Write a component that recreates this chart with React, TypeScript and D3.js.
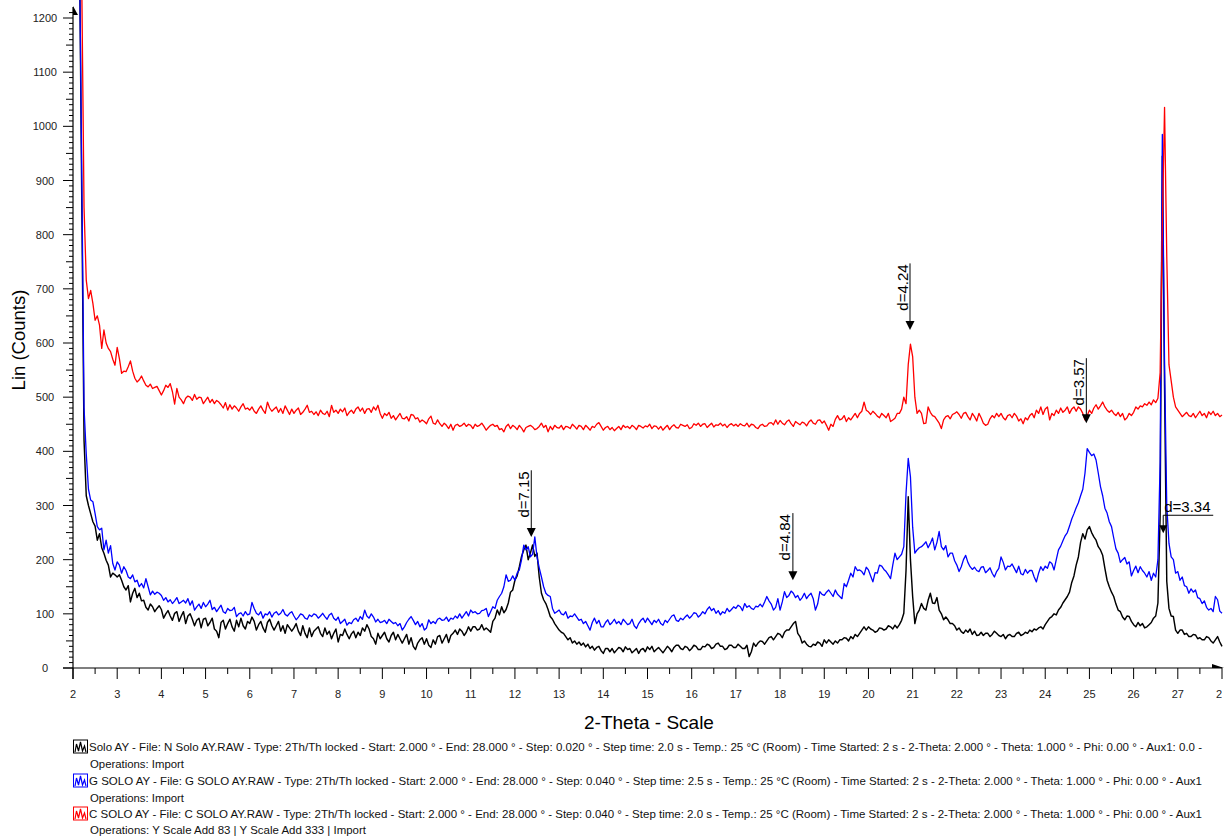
import React from "react";
import * as d3 from "d3";

// 2-Theta grid: start 2.00, step 0.05 (521 points each, one row per degree)
const START = 2.0;
const STEP = 0.05;

const blackCounts = [
  1400, 1400, 1400, 1300, 850, 420, 318, 300, 285, 270, 262, 236, 248, 222, 212, 199, 190, 168, 175, 172,
  168, 172, 162, 150, 144, 152, 122, 138, 147, 130, 138, 124, 125, 112, 107, 118, 113, 104, 110, 115,
  108, 92, 100, 106, 96, 88, 101, 104, 86, 96, 104, 82, 96, 100, 90, 78, 88, 92, 74, 90,
  92, 78, 84, 92, 72, 68, 56, 84, 88, 72, 82, 90, 76, 68, 88, 76, 92, 78, 72, 86,
  82, 94, 86, 70, 80, 86, 74, 66, 84, 90, 78, 70, 78, 86, 68, 78, 64, 80, 74, 68,
  74, 82, 68, 60, 78, 64, 56, 74, 58, 68, 72, 76, 64, 58, 74, 62, 68, 54, 64, 72,
  48, 62, 60, 72, 62, 54, 63, 68, 56, 66, 60, 74, 68, 80, 72, 58, 54, 44, 64, 54,
  60, 66, 54, 48, 60, 66, 52, 62, 54, 46, 54, 62, 44, 56, 40, 34, 46, 52, 56, 44,
  54, 42, 38, 52, 44, 58, 60, 46, 54, 62, 47, 60, 64, 70, 62, 72, 68, 60, 66, 76,
  68, 76, 76, 70, 72, 80, 70, 74, 70, 66, 86, 92, 107, 98, 113, 102, 108, 120, 140, 144,
  162, 170, 187, 206, 218, 227, 200, 212, 227, 206, 212, 168, 138, 126, 119, 108, 95, 90, 82, 76,
  70, 66, 64, 58, 52, 56, 46, 50, 44, 48, 42, 46, 39, 44, 36, 40, 33, 38, 40, 32,
  27, 36, 36, 30, 36, 28, 33, 38, 36, 30, 39, 34, 36, 28, 32, 36, 27, 34, 36, 30,
  39, 34, 40, 30, 34, 38, 33, 28, 34, 40, 36, 30, 38, 42, 42, 36, 34, 40, 38, 32,
  36, 42, 40, 34, 34, 40, 39, 44, 42, 36, 38, 44, 46, 40, 40, 34, 36, 42, 42, 38,
  38, 44, 40, 36, 36, 42, 21, 30, 46, 40, 46, 50, 49, 44, 50, 56, 58, 52, 58, 64,
  62, 56, 66, 70, 70, 76, 82, 86, 64, 58, 46, 50, 44, 40, 39, 44, 42, 48, 46, 40,
  52, 46, 52, 48, 44, 50, 46, 52, 52, 56, 55, 50, 58, 54, 62, 58, 64, 70, 76, 70,
  76, 72, 70, 66, 68, 74, 73, 70, 72, 78, 76, 72, 79, 74, 80, 88, 101, 180, 316, 200,
  132, 82, 100, 107, 119, 110, 107, 125, 138, 120, 119, 130, 107, 100, 89, 94, 89, 82, 82, 78,
  70, 74, 67, 64, 70, 66, 72, 62, 68, 60, 61, 66, 60, 64, 64, 58, 62, 68, 64, 60,
  58, 62, 54, 60, 62, 58, 58, 64, 66, 60, 62, 66, 64, 70, 67, 72, 70, 74, 76, 72,
  80, 86, 92, 95, 100, 98, 107, 112, 120, 126, 132, 140, 158, 170, 190, 205, 232, 248, 238, 255,
  261, 250, 242, 236, 224, 218, 208, 184, 162, 150, 140, 132, 118, 107, 104, 94, 89, 96, 95, 86,
  80, 76, 84, 78, 82, 74, 76, 80, 84, 92, 96, 120, 280, 945, 520, 160, 110, 96, 95, 70,
  64, 70, 70, 62, 64, 58, 58, 62, 61, 54, 56, 52, 52, 58, 56, 50, 46, 52, 58, 48,
  40,
];

const blueCounts = [
  1400, 1400, 1400, 1300, 900, 480, 395, 330, 310, 307, 285, 261, 255, 258, 218, 236, 212, 226, 193, 181,
  196, 190, 175, 187, 180, 168, 165, 172, 159, 162, 150, 156, 148, 165, 150, 135, 142, 136, 140, 138,
  134, 125, 130, 122, 126, 119, 124, 130, 119, 122, 125, 120, 128, 116, 124, 107, 113, 118, 110, 121,
  113, 118, 125, 108, 112, 104, 110, 116, 104, 101, 110, 106, 107, 112, 95, 100, 102, 96, 104, 98,
  100, 121, 110, 101, 98, 104, 92, 100, 98, 104, 94, 101, 104, 98, 101, 108, 99, 96, 101, 104,
  96, 89, 94, 100, 98, 92, 90, 98, 95, 100, 98, 92, 96, 101, 95, 90, 98, 101, 92, 88,
  94, 82, 86, 90, 79, 84, 82, 89, 92, 86, 95, 90, 107, 96, 92, 100, 94, 85, 90, 84,
  85, 88, 82, 90, 86, 82, 84, 78, 82, 70, 76, 84, 90, 95, 88, 80, 86, 76, 82, 70,
  74, 89, 82, 86, 82, 90, 92, 88, 89, 94, 86, 92, 90, 96, 92, 100, 92, 98, 104, 96,
  107, 102, 104, 100, 101, 106, 107, 110, 95, 104, 113, 110, 125, 132, 138, 150, 172, 160, 162, 170,
  162, 175, 181, 200, 227, 218, 224, 205, 210, 242, 205, 185, 168, 150, 138, 134, 132, 110, 101, 104,
  107, 100, 98, 104, 92, 96, 95, 100, 94, 88, 90, 82, 86, 78, 70, 84, 92, 82, 88, 76,
  76, 84, 89, 80, 84, 90, 82, 86, 80, 90, 85, 80, 82, 90, 78, 73, 82, 88, 92, 84,
  92, 86, 80, 88, 84, 90, 82, 79, 88, 84, 90, 96, 98, 88, 86, 92, 89, 94, 98, 92,
  96, 102, 101, 94, 98, 104, 100, 108, 113, 106, 110, 101, 106, 98, 104, 101, 110, 104, 108, 113,
  110, 116, 113, 106, 119, 112, 115, 110, 108, 114, 113, 118, 113, 122, 132, 124, 118, 107, 112, 128,
  107, 122, 141, 130, 134, 142, 138, 130, 134, 125, 130, 138, 128, 134, 138, 128, 107, 118, 141, 136,
  134, 140, 144, 138, 132, 144, 136, 132, 128, 156, 150, 162, 175, 168, 187, 180, 181, 178, 172, 186,
  181, 170, 159, 176, 175, 190, 188, 182, 178, 172, 165, 190, 212, 200, 205, 210, 224, 322, 387, 353,
  260, 212, 218, 222, 224, 228, 233, 222, 230, 240, 218, 232, 252, 224, 218, 226, 205, 212, 212, 198,
  190, 178, 187, 200, 208, 195, 187, 182, 186, 180, 178, 186, 187, 176, 180, 185, 175, 168, 178, 184,
  205, 195, 181, 188, 187, 192, 184, 176, 188, 174, 172, 182, 175, 180, 180, 168, 159, 175, 187, 180,
  188, 184, 196, 193, 181, 200, 218, 225, 235, 244, 250, 262, 275, 285, 296, 305, 318, 330, 360, 405,
  398, 392, 395, 384, 360, 335, 318, 295, 286, 270, 261, 240, 220, 212, 195, 200, 204, 192, 196, 170,
  180, 188, 176, 187, 180, 175, 168, 178, 162, 175, 168, 200, 380, 985, 560, 300, 230, 205, 200, 175,
  178, 162, 168, 152, 150, 138, 146, 140, 144, 130, 128, 119, 124, 112, 107, 110, 104, 132, 126, 105,
  101,
];

const redCounts = [
  1400, 1400, 1400, 1400, 1250, 850, 716, 682, 697, 673, 642, 650, 633, 590, 624, 600, 590, 584, 570, 559,
  592, 571, 544, 548, 547, 556, 567, 548, 535, 528, 532, 539, 530, 522, 519, 524, 516, 518, 520, 512,
  504, 512, 522, 518, 525, 510, 487, 516, 500, 495, 488, 498, 502, 500, 494, 505, 496, 500, 499, 488,
  494, 500, 490, 496, 488, 494, 491, 486, 480, 490, 476, 486, 478, 484, 480, 474, 482, 488, 478, 480,
  476, 482, 474, 470, 478, 484, 476, 470, 491, 480, 474, 478, 482, 472, 479, 470, 484, 476, 468, 478,
  470, 476, 480, 468, 472, 478, 485, 472, 474, 468, 473, 466, 476, 470, 468, 474, 464, 485, 472, 476,
  470, 478, 473, 480, 466, 472, 476, 470, 478, 482, 474, 480, 470, 478, 479, 472, 482, 476, 485, 470,
  461, 470, 466, 472, 461, 466, 458, 464, 470, 461, 460, 464, 456, 468, 467, 460, 462, 454, 458, 455,
  451, 460, 465, 452, 450, 458, 451, 446, 452, 448, 442, 450, 439, 448, 450, 446, 448, 452, 446, 450,
  448, 442, 450, 446, 448, 452, 446, 439, 444, 448, 450, 446, 448, 440, 442, 436, 446, 450, 442, 448,
  445, 440, 448, 443, 436, 444, 446, 448, 445, 440, 442, 446, 452, 444, 448, 436, 446, 440, 448, 444,
  443, 448, 440, 446, 445, 442, 450, 446, 441, 448, 446, 440, 448, 444, 439, 446, 444, 450, 453, 446,
  439, 444, 446, 440, 444, 438, 442, 446, 440, 448, 444, 446, 442, 448, 445, 440, 448, 446, 443, 447,
  445, 450, 442, 447, 446, 441, 446, 439, 444, 448, 440, 446, 449, 444, 443, 450, 448, 446, 449, 442,
  444, 451, 448, 452, 446, 450, 451, 444, 448, 452, 445, 449, 448, 452, 447, 450, 444, 449, 451, 447,
  450, 446, 451, 448, 447, 452, 445, 450, 449, 444, 442, 448, 450, 446, 447, 452, 453, 449, 458, 450,
  457, 452, 449, 455, 458, 451, 446, 455, 452, 449, 454, 452, 447, 454, 458, 452, 450, 457, 458, 452,
  456, 448, 439, 450, 446, 459, 466, 458, 460, 466, 455, 462, 458, 464, 470, 462, 470, 474, 491, 476,
  473, 468, 474, 470, 465, 462, 470, 466, 462, 470, 455, 458, 461, 470, 470, 478, 500, 488, 560, 598,
  575, 500, 470, 476, 470, 451, 452, 482, 472, 466, 464, 458, 452, 442, 458, 464, 466, 460, 468, 470,
  473, 468, 461, 470, 472, 464, 458, 470, 464, 456, 470, 462, 452, 448, 450, 460, 466, 462, 470, 464,
  470, 462, 458, 466, 468, 462, 470, 465, 456, 460, 451, 462, 458, 466, 470, 462, 476, 470, 482, 468,
  478, 482, 458, 470, 466, 476, 470, 480, 472, 476, 482, 470, 478, 482, 474, 482, 478, 470, 458, 466,
  476, 470, 480, 486, 478, 484, 491, 482, 476, 472, 476, 470, 466, 472, 464, 470, 458, 462, 470, 466,
  472, 482, 478, 484, 482, 488, 485, 491, 486, 495, 490, 498, 545, 820, 1035, 760, 560, 530, 500, 482,
  476, 470, 464, 468, 472, 466, 464, 470, 462, 468, 474, 466, 470, 462, 473, 468, 474, 466, 470, 464,
  467,
];

const seriesColors = ["#000000", "#0000ff", "#ff0000"];
const seriesWidths = [1.45, 1.3, 1.3];

const xTickLabels = d3.range(2, 29);
const yTickLabels = d3.range(0, 1201, 100);

const legendTitles = [
  "Solo AY - File: N Solo AY.RAW - Type: 2Th/Th locked - Start: 2.000 ° - End: 28.000 ° - Step: 0.020 ° - Step time: 2.0 s - Temp.: 25 °C (Room) - Time Started: 2 s - 2-Theta: 2.000 ° - Theta: 1.000 ° - Phi: 0.00 ° - Aux1: 0.0 -",
  "G SOLO AY - File: G SOLO AY.RAW - Type: 2Th/Th locked - Start: 2.000 ° - End: 28.000 ° - Step: 0.040 ° - Step time: 2.5 s - Temp.: 25 °C (Room) - Time Started: 2 s - 2-Theta: 2.000 ° - Theta: 1.000 ° - Phi: 0.00 ° - Aux1",
  "C SOLO AY - File: C SOLO AY.RAW - Type: 2Th/Th locked - Start: 2.000 ° - End: 28.000 ° - Step: 0.040 ° - Step time: 2.0 s - Temp.: 25 °C (Room) - Time Started: 2 s - 2-Theta: 2.000 ° - Theta: 1.000 ° - Phi: 0.00 ° - Aux1",
];
const legendOps = [
  "Operations: Import",
  "Operations: Import",
  "Operations: Y Scale Add 83 | Y Scale Add 333 | Import",
];
const legendOpsWidth = [94, 94, 276];

// d-spacing markers: 2-theta position, arrow tip value, line top value
const markerLabels = ["d=7.15", "d=4.84", "d=4.24", "d=3.57", "d=3.34"];
const markerTheta = [12.37, 18.29, 20.94, 24.93, 26.67];
const markerTip = [242, 162, 624, 452, 249];
const markerTop = [365, 286, 747, 572, 282];
const markerHorizontal = [false, false, false, false, true];

const FONT = "'Liberation Sans', Arial, Helvetica, sans-serif";

export default function App() {
  const W = 1229;
  const H = 836;
  const x = d3.scaleLinear().domain([2, 28]).range([73, 1222]);
  const y = d3.scaleLinear().domain([0, 1200]).range([668, 18]);
  const line = d3
    .line<number>()
    .x((_, i) => x(START + i * STEP))
    .y((d) => y(d));

  const series = [blackCounts, blueCounts, redCounts];
  const yMinor = d3.range(0, 1211, 10);
  const xMinor = d3.range(2, 28.01, 0.5);
  const x0 = x(2);
  const yBase = y(0);

  return (
    <svg
      width={W}
      height={H}
      style={{ position: "absolute", left: 0, top: 0, background: "#fff" }}
      fontFamily={FONT}
    >
      <defs>
        <clipPath id="pageClip">
          <rect x={0} y={0} width={1225} height={H} />
        </clipPath>
        <clipPath id="labelClip">
          <rect x={0} y={0} width={1222} height={H} />
        </clipPath>
      </defs>
      <rect x={0} y={0} width={W} height={H} fill="#fff" />
      <g clipPath="url(#pageClip)">
        {/* data */}
        {series.map((s, k) => (
          <path
            key={k}
            d={line(s) || ""}
            fill="none"
            stroke={seriesColors[k]}
            strokeWidth={seriesWidths[k]}
            strokeLinejoin="round"
          />
        ))}

        {/* y axis */}
        <line x1={x0} x2={x0} y1={yBase + 11} y2={7} stroke="#000" strokeWidth={1.2} />
        <path d={`M${x0},6 L${x0 + 5},15 L${x0},15 Z`} fill="#000" />
        {yMinor.map((v) => {
          const len = v % 100 === 0 ? 10 : v % 50 === 0 ? 7 : 4;
          return (
            <line
              key={"ym" + v}
              x1={x0 - len}
              x2={x0}
              y1={y(v)}
              y2={y(v)}
              stroke="#000"
              strokeWidth={1}
            />
          );
        })}
        {yTickLabels.map((v) => (
          <text
            key={"yl" + v}
            x={45}
            y={y(v) + 4}
            textAnchor="middle"
            fontSize={11}
            fill="#222"
          >
            {v}
          </text>
        ))}

        {/* x axis */}
        <line x1={x0 - 10} x2={1222} y1={yBase} y2={yBase} stroke="#000" strokeWidth={1.2} />
        <path d={`M1212,${yBase - 4} L1224,${yBase} L1212,${yBase} Z`} fill="#000" />
        {xMinor.map((v) => {
          const major = Math.abs(v - Math.round(v)) < 1e-6;
          return (
            <line
              key={"xm" + v}
              x1={x(v)}
              x2={x(v)}
              y1={yBase}
              y2={yBase + (major ? 11 : 6)}
              stroke="#000"
              strokeWidth={1}
            />
          );
        })}
        <g clipPath="url(#labelClip)">
          {xTickLabels.map((v) => (
            <text
              key={"xl" + v}
              x={x(v)}
              y={yBase + 30}
              textAnchor="middle"
              fontSize={11}
              fill="#222"
            >
              {v}
            </text>
          ))}
        </g>

        {/* axis titles */}
        <text
          transform={`translate(25,${340}) rotate(-90)`}
          textAnchor="middle"
          fontSize={18.5}
          fill="#000"
        >
          Lin (Counts)
        </text>
        <text x={649} y={729} textAnchor="middle" fontSize={19} fill="#000">
          2-Theta - Scale
        </text>

        {/* markers */}
        {markerLabels.map((lab, i) => {
          const mx = x(markerTheta[i]);
          const tip = y(markerTip[i]);
          const top = y(markerTop[i]);
          if (markerHorizontal[i]) {
            return (
              <g key={lab}>
                <text x={mx + 1} y={top - 3} fontSize={15} fill="#000">
                  {lab}
                </text>
                <line x1={mx} x2={mx + 50} y1={top} y2={top} stroke="#000" strokeWidth={1} />
                <line x1={mx} x2={mx} y1={top} y2={tip - 7} stroke="#000" strokeWidth={1} />
                <path d={`M${mx - 4},${tip - 8} L${mx + 4},${tip - 8} L${mx},${tip} Z`} fill="#000" />
              </g>
            );
          }
          return (
            <g key={lab}>
              <line x1={mx} x2={mx} y1={top} y2={tip - 7} stroke="#000" strokeWidth={1} />
              <path d={`M${mx - 4.5},${tip - 9} L${mx + 4.5},${tip - 9} L${mx},${tip} Z`} fill="#000" />
              <text
                transform={`translate(${mx - 2.5},${top + 1}) rotate(-90)`}
                textAnchor="end"
                fontSize={15}
                fill="#000"
              >
                {lab}
              </text>
            </g>
          );
        })}

        {/* legend */}
        {legendTitles.map((t, i) => {
          const cy = [747, 781, 814][i];
          const oy = [764, 798, 830][i];
          const c = seriesColors[i];
          return (
            <g key={"lg" + i}>
              <rect x={73.5} y={cy - 7} width={14} height={13} fill="#fff" stroke={c} strokeWidth={1} />
              <path
                d={`M${75},${cy + 5} L${76.5},${cy - 3} L${78.5},${cy + 4} L${80.5},${cy - 5} L${82.5},${cy + 4} L${84.5},${cy - 1} L${86},${cy + 5}`}
                fill="none"
                stroke={c}
                strokeWidth={1.2}
              />
              <text
                x={89}
                y={cy + 4}
                fontSize={11}
                fill="#111"
                textLength={1113}
                lengthAdjust="spacingAndGlyphs"
              >
                {t}
              </text>
              <text
                x={90}
                y={oy + 4}
                fontSize={11}
                fill="#111"
                textLength={legendOpsWidth[i]}
                lengthAdjust="spacingAndGlyphs"
              >
                {legendOps[i]}
              </text>
            </g>
          );
        })}
      </g>
    </svg>
  );
}
